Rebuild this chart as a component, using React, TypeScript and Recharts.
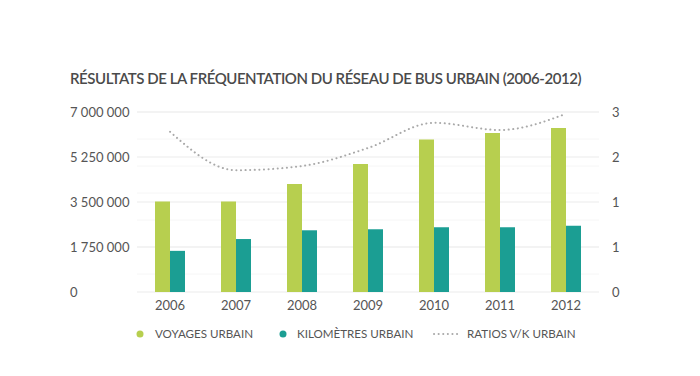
import { ComposedChart, Bar, Line, XAxis, YAxis, CartesianGrid } from 'recharts';

const years = ['2006', '2007', '2008', '2009', '2010', '2011', '2012'];
const voyages = [3520000, 3520000, 4200000, 4980000, 5930000, 6180000, 6380000];
const kilometres = [1600000, 2060000, 2400000, 2440000, 2520000, 2520000, 2580000];
const ratios = [2.67, 2.03, 2.1, 2.4, 2.82, 2.7, 2.97];

const leftTicks = [0, 1750000, 3500000, 5250000, 7000000];
const rightTicks = [0, 0.75, 1.5, 2.25, 3];
const rightTickLabels = ['0', '1', '1', '2', '3'];
const minorGrid = Array.from({ length: 21 }, (_, i) => i * 350000);

const GREEN = '#b7cf4f';
const TEAL = '#1b9e93';
const GREY_LINE = '#a9a9a9';
const FONT = 'Lato, "Open Sans", sans-serif';

const data = years.map((y, i) => ({
  year: y,
  voyages: voyages[i],
  km: kilometres[i],
  ratio: ratios[i],
}));

const fmtLeft = (v: number) => v.toLocaleString('fr-FR').replace(/\s|\u202f|\u00a0/g, ' ');

const LeftTick = (props: any) => (
  <text x={70} y={props.y} dy={5} textAnchor="start" fill="#555" fontSize={13} fontFamily={FONT}>
    {fmtLeft(props.payload.value)}
  </text>
);

const RightTick = (props: any) => (
  <text x={612} y={props.y} dy={5} textAnchor="start" fill="#555" fontSize={13} fontFamily={FONT}>
    {rightTickLabels[rightTicks.indexOf(props.payload.value)]}
  </text>
);

// legend: marker centre x, text start x
const legendItems = [
  { label: 'VOYAGES URBAIN', color: GREEN, kind: 'dot', mx: 140, tx: 155 },
  { label: 'KILOMÈTRES URBAIN', color: TEAL, kind: 'dot', mx: 283, tx: 297 },
  { label: 'RATIOS V/K URBAIN', color: GREY_LINE, kind: 'line', mx: 446, tx: 467 },
];

export default function App() {
  return (
    <div style={{ position: 'relative', width: 700, height: 376, margin: -8, background: '#fff', fontFamily: FONT }}>
      <div
        style={{
          position: 'absolute',
          left: 70,
          top: 69,
          fontSize: 15,
          fontWeight: 600,
          color: '#4a4a4a',
          letterSpacing: -0.45,
          whiteSpace: 'nowrap',
        }}
      >
        RÉSULTATS DE LA FRÉQUENTATION DU RÉSEAU DE BUS URBAIN (2006-2012)
      </div>
      <ComposedChart
        width={700}
        height={376}
        data={data}
        margin={{ top: 112, right: 0, bottom: 54, left: 0 }}
        barCategoryGap="27%"
        barGap={0}
      >
        <CartesianGrid yAxisId="left" horizontal vertical={false} stroke="#f6f6f6" horizontalValues={minorGrid} />
        <CartesianGrid yAxisId="left" horizontal vertical={false} stroke="#ebebeb" horizontalValues={leftTicks} />
        <XAxis
          dataKey="year"
          axisLine={false}
          tickLine={false}
          tick={{ fill: '#555', fontSize: 13, fontFamily: FONT }}
          height={30}
          tickMargin={3}
        />
        <YAxis
          yAxisId="left"
          domain={[0, 7000000]}
          ticks={leftTicks}
          width={137}
          axisLine={false}
          tickLine={false}
          tick={LeftTick}
        />
        <YAxis
          yAxisId="right"
          orientation="right"
          domain={[0, 3]}
          ticks={rightTicks}
          width={101}
          axisLine={false}
          tickLine={false}
          tick={RightTick}
        />
        <Bar yAxisId="left" dataKey="voyages" fill={GREEN} barSize={15} isAnimationActive={false} />
        <Bar yAxisId="left" dataKey="km" fill={TEAL} barSize={15} isAnimationActive={false} />
        <Line
          yAxisId="right"
          type="monotone"
          dataKey="ratio"
          stroke={GREY_LINE}
          strokeWidth={2}
          strokeDasharray="0.1 4.5"
          strokeLinecap="round"
          dot={false}
          activeDot={false}
          isAnimationActive={false}
        />
      </ComposedChart>
      {legendItems.map((it) => (
        <div key={it.label}>
          <svg
            width={30}
            height={10}
            style={{ position: 'absolute', left: it.mx - 15, top: 329 }}
          >
            {it.kind === 'dot' ? (
              <circle cx={15} cy={5} r={3.5} fill={it.color} />
            ) : (
              <line x1={3} y1={5} x2={27} y2={5} stroke={it.color} strokeWidth={2} strokeDasharray="0.1 4.5" strokeLinecap="round" />
            )}
          </svg>
          <span
            style={{
              position: 'absolute',
              left: it.tx,
              top: 326,
              fontSize: 11.6,
              color: '#555',
              whiteSpace: 'nowrap',
              lineHeight: '16px',
            }}
          >
            {it.label}
          </span>
        </div>
      ))}
    </div>
  );
}
